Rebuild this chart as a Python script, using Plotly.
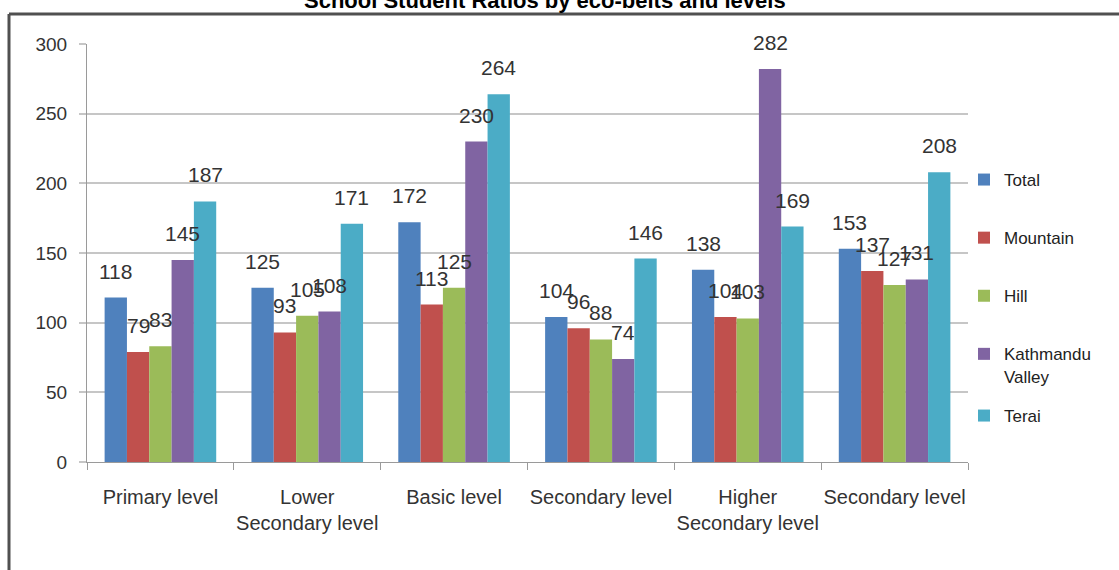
import plotly.graph_objects as go

# School student ratios by eco-belts and levels
levels = ["Primary level", "Lower<br>Secondary level", "Basic level",
          "Secondary level", "Higher<br>Secondary level", "Secondary level"]
series_names = ["Total", "Mountain", "Hill", "Kathmandu<br>Valley", "Terai"]
total = [118, 125, 172, 104, 138, 153]
mountain = [79, 93, 113, 96, 104, 137]
hill = [83, 105, 125, 88, 103, 127]
kathmandu = [145, 108, 230, 74, 282, 131]
terai = [187, 171, 264, 146, 169, 208]
y_ticks = [0, 50, 100, 150, 200, 250, 300]

series = [total, mountain, hill, kathmandu, terai]
colors = ['#4F81BD', '#C0504D', '#9BBB59', '#8064A2', '#4BACC6']

FONT = "Liberation Sans, Arial"
W, H = 1119, 570
L, R, T, B = 87, 151, 44, 108
bargap = 0.24

fig = go.Figure()
xs = list(range(len(levels)))

for j, (name, vals) in enumerate(zip(series_names, series)):
    # last entry goes to a second legend so the two-line item doesn't push it down
    fig.add_trace(go.Bar(x=xs, y=vals, name=name, marker_color=colors[j],
                         marker_line_width=0, legendgroup=f"g{j}",
                         legend='legend2' if j == len(series) - 1 else 'legend'))

# data labels sit a bit above each bar, like the Excel original
n = len(series)
bw = (1 - bargap) / n
for j, vals in enumerate(series):
    for i, v in enumerate(vals):
        fig.add_annotation(x=i + (j - (n - 1) / 2) * bw, y=v, text=str(v),
                           showarrow=False, yanchor='bottom', yshift=13,
                           font=dict(family=FONT, size=21, color='#333333'))


# pixel -> paper helpers for the outer frame
def px(x):
    return (x - L) / (W - L - R)


def py(y):
    return 1 - (y - T) / (H - T - B)


frame = dict(color='#505050', width=3)
fig.add_shape(type='line', xref='paper', yref='paper', x0=px(9), x1=px(W + 5),
              y0=py(14), y1=py(14), line=frame)
fig.add_shape(type='line', xref='paper', yref='paper', x0=px(9), x1=px(9),
              y0=py(14), y1=py(H + 5), line=frame)

# title is half cut off at the top edge in the original
fig.add_annotation(xref='paper', yref='paper', x=px(545), y=py(0),
                   xanchor='center', yanchor='middle', showarrow=False,
                   text="<b>School Student Ratios by eco-belts and levels</b>",
                   font=dict(family=FONT, size=22, color='black'))

leg = dict(x=px(964), xanchor='left', yanchor='top',
           traceorder='grouped', tracegroupgap=33, valign='top',
           font=dict(family=FONT, size=17, color='#222222'),
           bgcolor='rgba(0,0,0,0)')
fig.update_layout(
    width=W, height=H,
    margin=dict(l=L, r=R, t=T, b=B, autoexpand=False),
    paper_bgcolor='white', plot_bgcolor='white',
    barmode='group', bargap=bargap, bargroupgap=0,
    legend=dict(leg, y=py(162)),
    legend2=dict(leg, y=py(398)),
    showlegend=True,
)

fig.update_xaxes(range=[-0.5, len(levels) - 0.5], tickmode='array', tickvals=xs,
                 ticktext=levels, ticks='', tickangle=0, automargin=False,
                 ticklabelstandoff=17, showgrid=False, zeroline=False,
                 showline=True, linecolor='#9a9a9a', linewidth=1,
                 tickfont=dict(family=FONT, size=20, color='#333333'),
                 minor=dict(tickmode='array', tickvals=[i - 0.5 for i in range(len(levels) + 1)],
                            ticks='outside', ticklen=7, tickcolor='#9a9a9a', showgrid=False))
fig.update_yaxes(range=[0, 300], tickmode='array', tickvals=y_ticks, automargin=False,
                 ticks='outside', ticklen=7, tickcolor='#c6c6c6', tickwidth=2,
                 ticklabelstandoff=8,
                 showgrid=True, gridcolor='#c6c6c6', gridwidth=2, zeroline=False,
                 showline=True, linecolor='#9a9a9a', linewidth=1,
                 tickfont=dict(family=FONT, size=19, color='#333333'))

# the page margin would shift the chart; drop it so the frame sits at the edges
fig.write_html("out.html", config={'displayModeBar': False},
               post_script="document.body.style.margin='0';")
